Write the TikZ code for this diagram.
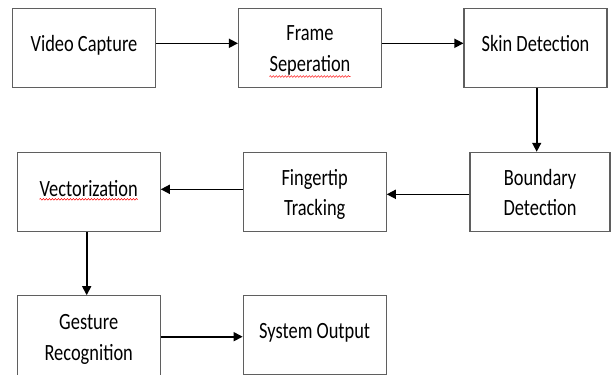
\documentclass[tikz,border=0pt]{standalone}
\usepackage{fontspec}
\setmainfont{Carlito}[FakeStretch=0.79]
\usetikzlibrary{arrows.meta,decorations.pathmorphing}
\definecolor{boxgray}{RGB}{95,95,95}
\begin{document}
\begin{tikzpicture}[x=1pt,y=-1pt,
  box/.style={draw=boxgray,line width=1.1pt,minimum width=143pt,minimum height=79pt,inner sep=0pt},
  txt/.style={anchor=base,inner sep=0pt,font=\fontsize{23.3}{30}\selectfont},
  flow/.style={-{Triangle[length=9pt,width=9pt]},line width=1.6pt},
  spell/.style={red,line width=0.5pt,decorate,
    decoration={snake,amplitude=0.8pt,segment length=3pt}}]
\useasboundingbox (0,0) rectangle (611,375);

% processing stages
\node[box] (cap)  at (84,47.7)    {};
\node[box] (sep)  at (310,47.7)   {};
\node[box] (skin) at (535.5,47.7) {};
\node[box,minimum width=140pt,minimum height=79.4pt] (bnd) at (540,192) {};
\node[box,minimum height=79.4pt] (tip) at (314.7,192) {};
\node[box,minimum height=79.4pt] (vec) at (88.7,192) {};
\node[box,minimum height=80pt] (ges) at (88.7,335.7) {};
\node[box,minimum height=78.3pt] (out) at (314.7,334.9) {};

% stage labels, one node per line, placed on their baselines
\node[txt] (capL)  at (cap.center  |- 0,51)    {Video Capture};
\node[txt] (sepL1) at (sep.center  |- 0,40)    {Frame};
\node[txt] (sepL2) at (sep.center  |- 0,71.5)  {Seperation};
\node[txt] (skinL) at (skin.center |- 0,51.3)  {Skin Detection};
\node[txt] (bndL1) at (bnd.center  |- 0,185)   {Boundary};
\node[txt] (bndL2) at (bnd.center  |- 0,215.5) {Detection};
\node[txt] (tipL1) at (tip.center  |- 0,185)   {Fingertip};
\node[txt] (tipL2) at (tip.center  |- 0,215.5) {Tracking};
\node[txt] (vecL)  at (vec.center  |- 0,196)   {Vectorization};
\node[txt] (gesL1) at (ges.center  |- 0,329)   {Gesture};
\node[txt] (gesL2) at (ges.center  |- 0,360.5) {Recognition};
\node[txt] (outL)  at (out.center  |- 0,338.2) {System Output};

% spell-check marks
\draw[spell] ([yshift=-5pt]sepL2.base west) -- ([yshift=-5pt]sepL2.base east);
\draw[spell] ([yshift=-3.3pt]vecL.base west) -- ([yshift=-3.3pt]vecL.base east);

% connectors
\draw[flow] (cap.east |- 0,43.3) -- (sep.west |- 0,43.3);
\draw[flow] (sep.east |- 0,43.3) -- (skin.west |- 0,43.3);
\draw[flow] (skin.south -| 536.7,0) -- (bnd.north -| 536.7,0);
\draw[flow] (bnd.west |- 0,194.3) -- (tip.east |- 0,194.3);
\draw[flow] (tip.west |- 0,189.3) -- (vec.east |- 0,189.3);
\draw[flow] (vec.south -| 86.7,0) -- (ges.north -| 86.7,0);
\draw[flow] (ges.east |- 0,336.7) -- (out.west |- 0,336.7);
\end{tikzpicture}
\end{document}
